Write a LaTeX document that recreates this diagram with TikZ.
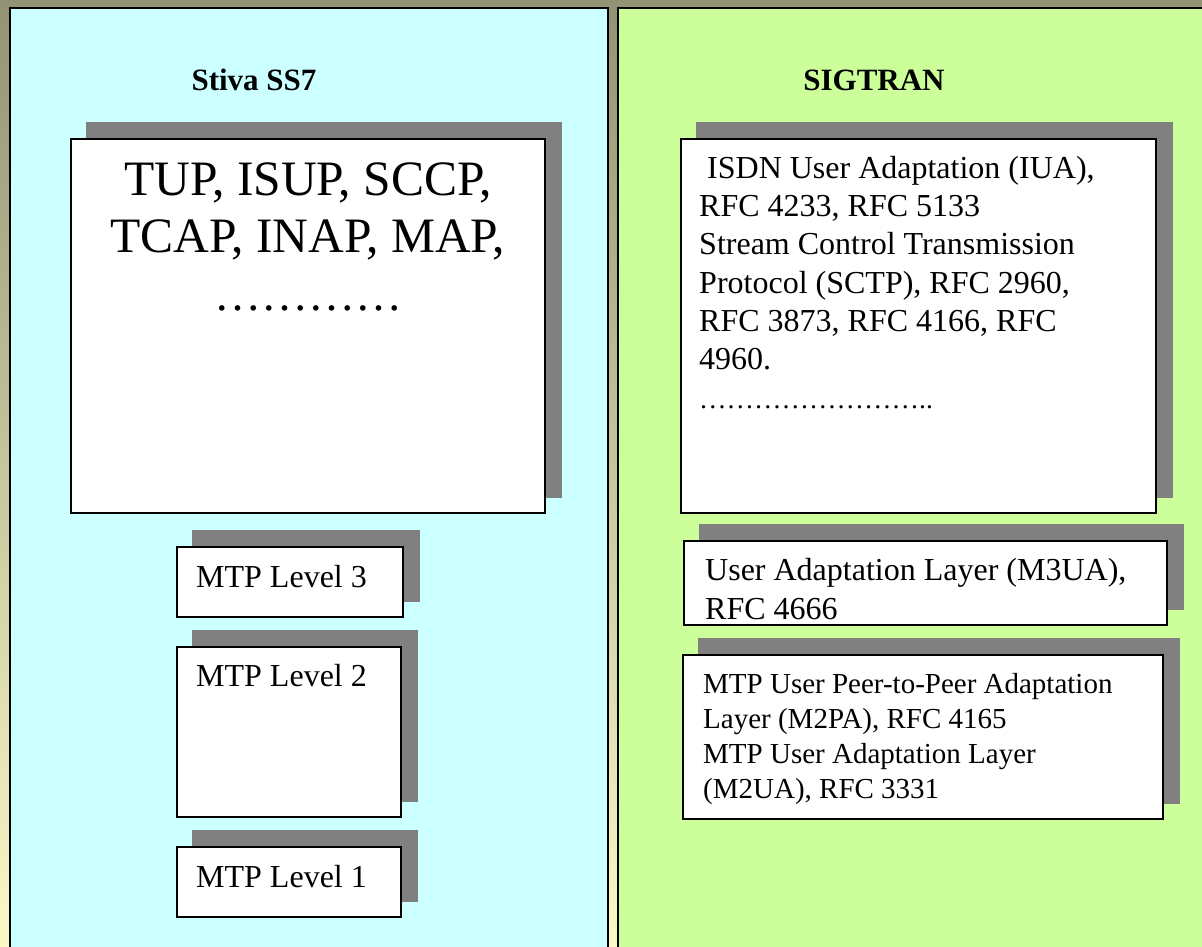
\documentclass[tikz,border=0pt]{standalone}
\usepackage{fontspec}
\setmainfont{Liberation Serif}
\usepackage{tikz}
\usetikzlibrary{positioning,shadows}
\definecolor{frametop}{RGB}{148,146,116}
\definecolor{framebot}{RGB}{251,249,200}
\definecolor{ssseven}{RGB}{204,255,255}
\definecolor{sigtran}{RGB}{204,255,153}
\definecolor{boxshadow}{RGB}{128,128,128}
\tikzset{
  panel/.style={draw,line width=2.5pt},
  layer/.style={draw,fill=white,line width=2pt,inner sep=0pt,anchor=north west,
    general shadow={fill=boxshadow,draw=boxshadow,shadow xshift=16pt,shadow yshift=16pt}},
  body/.style={font=\fontsize{32}{38.3}\selectfont,align=left,inner sep=0pt,anchor=base west},
  bigbody/.style={font=\fontsize{49.5}{57.5}\selectfont,align=center,inner sep=0pt,anchor=base},
  title/.style={font=\fontsize{31}{36}\selectfont\bfseries,inner sep=0pt,anchor=base},
}

\begin{document}
\begin{tikzpicture}[x=1pt,y=-1pt]
  \clip (0,0) rectangle (1202,946);
  \shade[top color=frametop,bottom color=framebot] (0,0) rectangle (1202,946);
  % the two stacks side by side
  \draw[panel,fill=ssseven] (10,8) rectangle (608,970);
  \draw[panel,fill=sigtran] (618,8) rectangle (1230,970);
  \node[title] (ss7) at (254,90) {Stiva SS7};
  \node[title] (sig) at (874,90) {SIGTRAN};

  % SS7 layers (base of a multi-line text is its last line)
  \node[layer,minimum width=474pt,minimum height=374pt] (upper) at (70,138) {};
  \node[bigbody] (uppertxt) at ([shift={(238,172)}]upper.north west)
    {TUP, ISUP, SCCP,\\TCAP, INAP, MAP,\\\fontsize{47}{57.5}\selectfont …………};
  \node[layer,minimum width=226pt,minimum height=70pt] (lvl3) at (176,546) {};
  \node[layer,minimum width=224pt,minimum height=170pt,below=28pt of lvl3.south west,anchor=north west] (lvl2) {};
  \node[layer,minimum width=224pt,minimum height=70pt,below=28pt of lvl2.south west,anchor=north west] (lvl1) {};
  \node[body] (lvl3txt) at ([shift={(20,41)}]lvl3.north west) {MTP Level 3};
  \node[body] (lvl2txt) at ([shift={(20,40)}]lvl2.north west) {MTP Level 2};
  \node[body] (lvl1txt) at ([shift={(20,41)}]lvl1.north west) {MTP Level 1};

  % SIGTRAN layers
  \node[layer,minimum width=475pt,minimum height=374pt] (adapt) at (680,138) {};
  \node[layer,minimum width=483pt,minimum height=84pt] (m3ua) at (683,540) {};
  \node[layer,minimum width=480pt,minimum height=164pt] (m2pa) at (682,654) {};
  \node[body] (adapttxt) at ([shift={(19,270)}]adapt.north west)
    {~ISDN User Adaptation (IUA),\\RFC 4233, RFC 5133\\Stream Control Transmission\\
     Protocol (SCTP), RFC 2960,\\RFC 3873, RFC 4166, RFC\\4960.\\
     \fontsize{27.5}{38.3}\selectfont ……………………..};
  \node[body] (m3uatxt) at ([shift={(22,79)}]m3ua.north west)
    {User Adaptation Layer (M3UA),\\RFC 4666};
  \node[body,font=\fontsize{29}{35}\selectfont] (m2patxt) at ([shift={(21,144)}]m2pa.north west)
    {MTP User Peer-to-Peer Adaptation\\Layer (M2PA), RFC 4165\\MTP User Adaptation Layer\\(M2UA), RFC 3331};
\end{tikzpicture}
\end{document}
